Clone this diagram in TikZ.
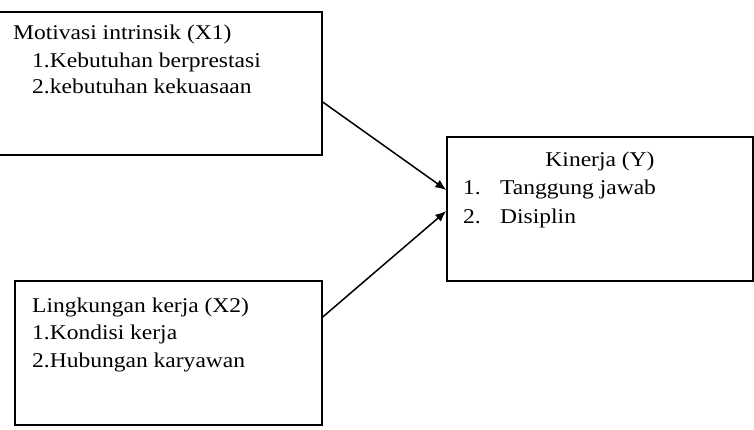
\documentclass[tikz,border=0pt]{standalone}
\usepackage{fontspec}
\setmainfont{Liberation Serif}[FakeStretch=1.12]
\usetikzlibrary{positioning}
\usetikzlibrary{arrows.meta}

\tikzset{
  kotak/.style={draw=black, line width=1.4pt, rectangle, inner sep=0pt},
  baris/.style={anchor=base west, inner sep=0pt},
  panah/.style={line width=1.5pt, -{Latex[length=11pt,width=9pt]}}
}

\begin{document}
\begin{tikzpicture}[x=1pt, y=-1pt]

\fontsize{21}{27}\selectfont

\useasboundingbox (0,0) rectangle (754,430);

% kotak
\node[kotak, minimum width=323pt, minimum height=143pt] (mot) at (160.5,83.5) {};
\node[kotak, minimum width=307pt, minimum height=144pt] (ling) at (168.5,353) {};
\node[kotak, minimum width=306pt, minimum height=144pt] (kin) at (600,209) {};

% isi X1
\node[baris] (mot1) at (13,40) {Motivasi intrinsik (X1)};
\node[baris] (mot2) at (32,68) {1.Kebutuhan berprestasi};
\node[baris] (mot3) at (32,94) {2.kebutuhan kekuasaan};

% isi X2
\node[baris] (ling1) at (32,312) {Lingkungan kerja (X2)};
\node[baris] (ling2) at (32,339) {1.Kondisi kerja};
\node[baris] (ling3) at (32,367) {2.Hubungan karyawan};

% isi Y
\node[anchor=base, inner sep=0pt] (kin1) at (600,167) {Kinerja (Y)};
\node[baris] (kinn1) at (463,195) {1.};
\node[baris] (kint1) at (500,195) {Tanggung jawab};
\node[baris] (kinn2) at (463,223) {2.};
\node[baris] (kint2) at (500,223) {Disiplin};

\draw[panah] ([yshift=-18.5pt]mot.east) -- ([yshift=19pt]kin.west);
\draw[panah] ([yshift=36pt]ling.east) -- ([yshift=-2pt]kin.west);

\end{tikzpicture}
\end{document}
